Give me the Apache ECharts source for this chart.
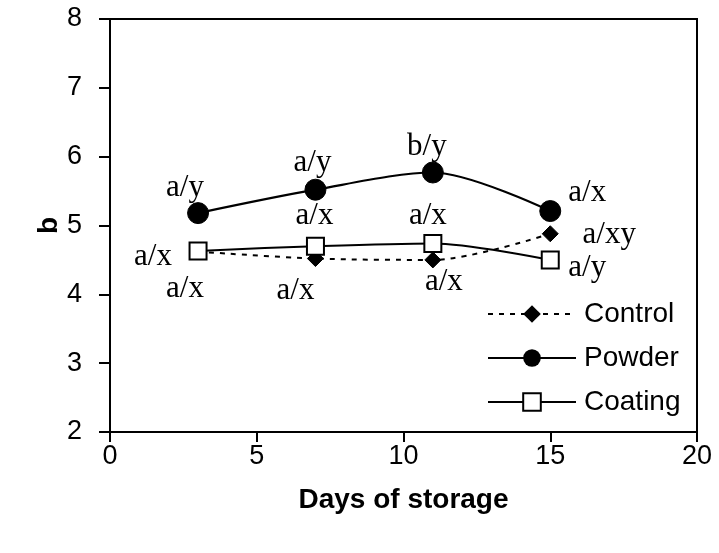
<!DOCTYPE html>
<html>
<head>
<meta charset="utf-8">
<script src="https://cdn.jsdelivr.net/npm/echarts@6/dist/echarts.min.js"></script>
<style>
html,body{margin:0;padding:0;background:#fff;}
#chart{width:719px;height:553px;}
</style>
</head>
<body>
<div id="chart"></div>
<script>
// ---- data ----
const days = [3, 7, 11, 15];
const controlValues = [4.62, 4.52, 4.50, 4.88];
const powderValues  = [5.18, 5.52, 5.77, 5.21];
const coatingValues = [4.63, 4.70, 4.74, 4.50];
const controlLabels = ['a/x', 'a/x', 'a/x', 'a/xy'];
const powderLabels  = ['a/y', 'a/y', 'b/y', 'a/x'];
const coatingLabels = ['a/x', 'a/x', 'a/x', 'a/y'];
const seriesNames = ['Control', 'Powder', 'Coating'];
const xTicks = [0, 5, 10, 15, 20];
const yTicks = [2, 3, 4, 5, 6, 7, 8];

// ---- label layout (pixel offsets of label centre from point) ----
const controlOffsets = [[-13, 37], [-20, 32], [11, 22], [59, 1]];
const powderOffsets  = [[-13, -25], [-3, -27], [-6, -26], [37, -18]];
const coatingOffsets = [[-45, 6], [-1, -30], [-5, -28], [37, 8]];

function build(values, labels, offsets) {
  return days.map((d, i) => ({
    value: [d, values[i]],
    label: {
      show: true,
      formatter: labels[i],
      position: 'inside',
      offset: offsets[i],
      align: 'center',
      verticalAlign: 'middle',
      fontFamily: '"Liberation Serif","Times New Roman",serif',
      fontSize: 31,
      color: '#000'
    }
  }));
}

const chart = echarts.init(document.getElementById('chart'), null, {renderer: 'canvas'});
const axisFont = {fontFamily: '"Liberation Sans",Arial,sans-serif', fontSize: 27, color: '#000'};

chart.setOption({
  animation: false,
  backgroundColor: '#fff',
  grid: {left: 110, right: 22, top: 19, bottom: 121, show: true, borderColor: '#000', borderWidth: 2, backgroundColor: 'transparent'},
  xAxis: {
    type: 'value', min: xTicks[0], max: xTicks[xTicks.length - 1], interval: 5,
    name: 'Days of storage', nameLocation: 'middle', nameGap: 54, nameMoveOverlap: false,
    nameTextStyle: {fontFamily: '"Liberation Sans",Arial,sans-serif', fontSize: 28, fontWeight: 'bold', color: '#000'},
    axisLine: {show: true, lineStyle: {color: '#000', width: 2}},
    axisTick: {show: true, inside: false, length: 10, lineStyle: {color: '#000', width: 2}},
    axisLabel: Object.assign({margin: 11}, axisFont),
    splitLine: {show: false}
  },
  yAxis: {
    type: 'value', min: yTicks[0], max: yTicks[yTicks.length - 1], interval: 1,
    name: 'b', nameLocation: 'middle', nameGap: 61, nameRotate: 90, nameMoveOverlap: false,
    nameTextStyle: {fontFamily: '"Liberation Sans",Arial,sans-serif', fontSize: 28, fontWeight: 'bold', color: '#000', align: 'center', verticalAlign: 'middle'},
    axisLine: {show: true, lineStyle: {color: '#000', width: 2}},
    axisTick: {show: true, inside: false, length: 11, lineStyle: {color: '#000', width: 2}},
    axisLabel: Object.assign({margin: 28}, axisFont),
    splitLine: {show: false}
  },
  legend: {
    data: seriesNames,
    orient: 'vertical',
    left: 487, top: 300, padding: 0,
    itemWidth: 88, itemHeight: 22, itemGap: 16,
    textStyle: {fontFamily: '"Liberation Sans",Arial,sans-serif', fontSize: 28, color: '#000', padding: [0, 0, 0, 3]},
    selectedMode: false
  },
  series: [
    {
      name: seriesNames[0], type: 'line', smooth: 0.3,
      data: build(controlValues, controlLabels, controlOffsets),
      symbol: 'diamond', symbolSize: 16,
      itemStyle: {color: '#000', borderColor: '#000'},
      lineStyle: {color: '#000', width: 2, type: [5, 6]},
      z: 2
    },
    {
      name: seriesNames[1], type: 'line', smooth: 0.3,
      data: build(powderValues, powderLabels, powderOffsets),
      symbol: 'circle', symbolSize: 21,
      itemStyle: {color: '#000', borderColor: '#000'},
      lineStyle: {color: '#000', width: 2.2},
      z: 3
    },
    {
      name: seriesNames[2], type: 'line', smooth: 0.3,
      data: build(coatingValues, coatingLabels, coatingOffsets),
      symbol: 'rect', symbolSize: 17,
      itemStyle: {color: '#fff', borderColor: '#000', borderWidth: 2},
      lineStyle: {color: '#000', width: 2},
      z: 4
    }
  ]
});
</script>
</body>
</html>
